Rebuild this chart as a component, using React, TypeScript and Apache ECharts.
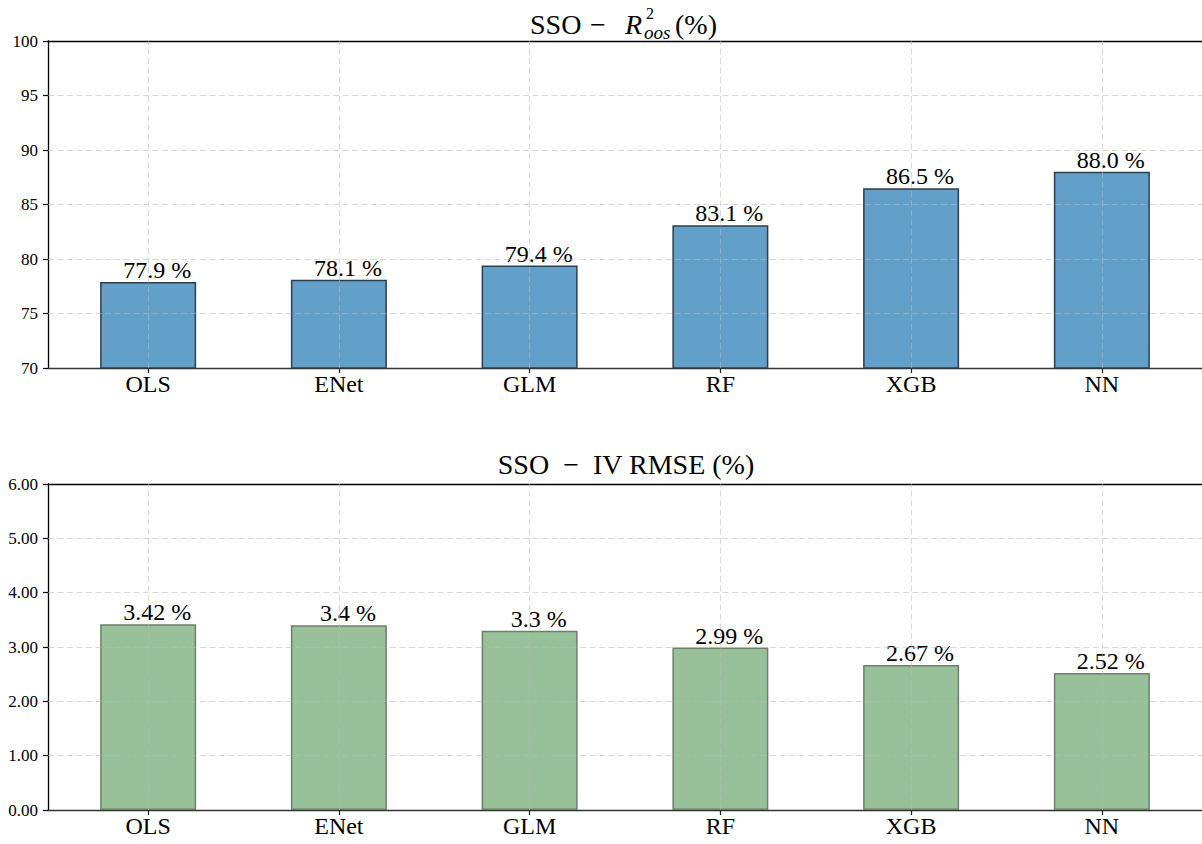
import React, { useEffect, useRef } from 'react';
import * as echarts from 'echarts';

// Model names on the x axis
const models = ['OLS', 'ENet', 'GLM', 'RF', 'XGB', 'NN'];
// Out-of-sample R² (%) per model
const r2Values = [77.9, 78.1, 79.4, 83.1, 86.5, 88.0];
// Implied-volatility RMSE (%) per model
const rmseValues = [3.42, 3.4, 3.3, 2.99, 2.67, 2.52];
// Y tick values
const r2Ticks = [70, 75, 80, 85, 90, 95, 100];
const rmseTicks = [0, 1, 2, 3, 4, 5, 6];

const SERIF = 'Liberation Serif';
const X_MIN = -0.525;
const X_MAX = models.length - 1 + 0.525;
const positions = models.map((_, i) => i);

const gridLineData = (ticks: number[]) => [
  ...positions.map((i) => ({ xAxis: i })),
  ...ticks.slice(1, -1).map((v) => ({ yAxis: v })),
];

const bottomAxis = (gridIndex: number) => ({
  type: 'value',
  gridIndex,
  min: X_MIN,
  max: X_MAX,
  position: 'bottom',
  axisLine: { show: true, onZero: false, lineStyle: { color: '#333', width: 1.3 } },
  axisTick: {
    show: true,
    customValues: positions,
    length: 5,
    lineStyle: { color: '#222', width: 1.2 },
  },
  axisLabel: {
    show: true,
    customValues: positions,
    formatter: (v: number) => models[Math.round(v)],
    fontFamily: SERIF,
    fontSize: 24,
    color: '#000',
    margin: 4,
  },
  splitLine: { show: false },
});

const topAxis = (gridIndex: number) => ({
  type: 'value',
  gridIndex,
  min: X_MIN,
  max: X_MAX,
  position: 'top',
  axisLine: { show: true, onZero: false, lineStyle: { color: '#000', width: 1.3 } },
  axisTick: { show: false },
  axisLabel: { show: false },
  splitLine: { show: false },
});

const yAxisBase = {
  type: 'value',
  axisLine: { show: true, onZero: false, lineStyle: { color: '#000', width: 1.3 } },
  axisTick: { show: true, length: 5, lineStyle: { color: '#000', width: 1.2 } },
  splitLine: { show: false },
};

const markGrid = (ticks: number[]) => ({
  silent: true,
  symbol: ['none', 'none'],
  label: { show: false },
  emphasis: { disabled: true },
  lineStyle: { type: [6, 3.5], color: 'rgba(185,185,185,0.55)', width: 1 },
  data: gridLineData(ticks),
});

const valueLabel = (format: (v: number) => string) => ({
  show: true,
  position: 'top',
  distance: 0,
  offset: [9, 0],
  formatter: (p: any) => `${format(p.value[1])} %`,
  fontFamily: SERIF,
  fontSize: 24,
  color: '#000',
});

export default function App() {
  const ref = useRef<HTMLDivElement>(null);

  useEffect(() => {
    document.body.style.margin = '0';
    if (!ref.current) return;
    const chart = echarts.init(ref.current, undefined, { renderer: 'svg' });

    const mainFont = { fontFamily: SERIF, fontSize: 28, fill: '#000' };
    const supFont = { fontFamily: SERIF, fontSize: 16, fill: '#000' };
    const subFont = { fontFamily: SERIF, fontSize: 19, fill: '#000' };

    chart.setOption({
      animation: false,
      backgroundColor: '#fff',
      textStyle: { fontFamily: SERIF },
      grid: [
        { left: 48, top: 41, width: 1162, height: 327 },
        { left: 48, top: 484, width: 1162, height: 326 },
      ],
      xAxis: [bottomAxis(0), bottomAxis(1), topAxis(0), topAxis(1)],
      yAxis: [
        {
          ...yAxisBase,
          gridIndex: 0,
          min: r2Ticks[0],
          max: r2Ticks[r2Ticks.length - 1],
          interval: 5,
          axisLabel: { fontFamily: SERIF, fontSize: 17, color: '#000', margin: 10 },
        },
        {
          ...yAxisBase,
          gridIndex: 1,
          min: rmseTicks[0],
          max: rmseTicks[rmseTicks.length - 1],
          interval: 1,
          axisLabel: {
            fontFamily: SERIF,
            fontSize: 17,
            color: '#000',
            margin: 10,
            formatter: (v: number) => v.toFixed(2),
          },
        },
      ],
      series: [
        {
          type: 'bar',
          xAxisIndex: 0,
          yAxisIndex: 0,
          data: r2Values.map((v, i) => [i, v]),
          barWidth: 96,
          itemStyle: { color: '#62a0ca', borderColor: '#2f3d48', borderWidth: 1.5 },
          label: valueLabel((v) => v.toFixed(1)),
          markLine: markGrid(r2Ticks),
        },
        {
          type: 'bar',
          xAxisIndex: 1,
          yAxisIndex: 1,
          data: rmseValues.map((v, i) => [i, v]),
          barWidth: 96,
          itemStyle: { color: '#99c199', borderColor: '#6f7f6f', borderWidth: 1.5 },
          label: valueLabel((v) => String(v)),
          markLine: markGrid(rmseTicks),
        },
      ],
      graphic: [
        // Upper panel title: SSO − R²_oos(%)
        { type: 'text', x: 530, y: 24, style: { ...mainFont, text: 'SSO', align: 'left', verticalAlign: 'middle' } },
        { type: 'text', x: 590, y: 24, style: { ...mainFont, text: '−', align: 'left', verticalAlign: 'middle' } },
        { type: 'text', x: 625, y: 24, style: { ...mainFont, fontStyle: 'italic', text: 'R', align: 'left', verticalAlign: 'middle' } },
        { type: 'text', x: 646, y: 13, style: { ...supFont, text: '2', align: 'left', verticalAlign: 'middle' } },
        { type: 'text', x: 644, y: 32, style: { ...subFont, fontStyle: 'italic', text: 'oos', align: 'left', verticalAlign: 'middle' } },
        { type: 'text', x: 675, y: 24, style: { ...mainFont, text: '(%)', align: 'left', verticalAlign: 'middle' } },
        // Lower panel title
        {
          type: 'text',
          x: 626,
          y: 464,
          style: { ...mainFont, text: 'SSO  −  IV RMSE (%)', align: 'center', verticalAlign: 'middle' },
        },
      ],
    });

    return () => chart.dispose();
  }, []);

  return <div ref={ref} style={{ width: 1202, height: 844 }} />;
}
